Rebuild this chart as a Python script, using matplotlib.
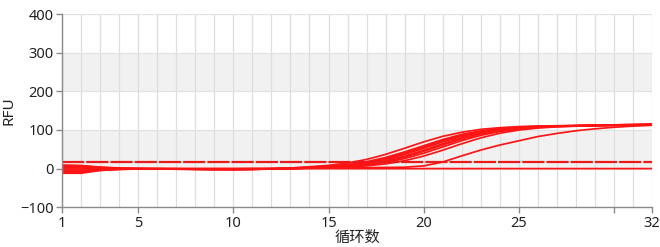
import matplotlib
matplotlib.use("Agg")
import matplotlib.pyplot as plt

cycles = list(range(1, 33))

# RFU per well (baseline subtracted)
rfu_a1 = [8, 7, 3, 1, 0, 0, -0.5, -1, -1.5, -1.5, -1, -0.5, 1.5, 4.8, 8.4, 14.4, 23.7, 36.8, 52.7, 69.1, 83.5, 94.1, 101.6, 105.9, 108.7, 110.2, 111.0, 111.5, 112.0, 112.5, 113.0, 113.5]
rfu_a2 = [5, 5, 2, 0.5, 0, -0.5, -1, -1.5, -2, -2, -1.5, -1, 1.0, 3.0, 5.3, 9.3, 15.9, 25.9, 39.7, 56.0, 72.3, 86.1, 96.1, 102.7, 106.7, 109.0, 110.3, 111.1, 111.8, 112.5, 113.2, 114.0]
rfu_a3 = [2, 2, 1, 0, -0.5, -1, -1, -1.5, -2, -2, -2, -1, 0.5, 2.7, 4.8, 8.4, 14.4, 23.7, 36.8, 52.7, 69.1, 83.5, 94.1, 101.6, 105.9, 108.7, 110.2, 111.0, 112.0, 113.0, 114.0, 115.0]
rfu_a4 = [-1, -1, -0.5, -0.5, -0.5, -1, -1.5, -2, -2.5, -2.5, -2, -1, 0.5, 2.2, 4.0, 7.1, 12.2, 20.4, 32.4, 47.7, 64.3, 79.6, 91.6, 99.8, 105.0, 108.0, 109.8, 110.8, 111.6, 112.4, 113.2, 114.0]
rfu_a5 = [-4, -4, -2, -1, -0.5, -0.5, -1, -1.5, -2, -2, -1.5, -1, 0, 2.0, 3.5, 6.3, 11.0, 18.6, 29.8, 44.5, 61.0, 76.6, 89.5, 98.4, 104.1, 107.5, 109.5, 110.6, 111.5, 112.3, 113.0, 113.8]
rfu_a6 = [-7, -7, -3, -1.5, -1, -1, -1.5, -2, -2, -2.5, -2, -1, 0, 1.7, 3.0, 5.3, 9.3, 15.9, 25.9, 39.7, 56.0, 72.3, 86.1, 96.1, 102.7, 106.7, 109.0, 110.3, 111.2, 112.0, 112.8, 113.5]
rfu_a7 = [-10, -10, -4, -2, -1, -1, -1, -1.5, -1.5, -2, -1.5, -1, -0.5, 1.3, 2.2, 4.0, 7.1, 12.2, 20.4, 32.4, 47.7, 64.3, 79.6, 91.6, 99.8, 105.0, 108.0, 109.8, 110.8, 111.6, 112.4, 113.2]
rfu_a8 = [9, 8, 4, 1.5, 0.5, 0, -0.5, -1, -1, -1, -1, 0, 1.5, 3.4, 6.0, 10.5, 17.8, 28.8, 43.3, 59.3, 75.2, 88.6, 97.6, 103.6, 107.2, 109.3, 110.5, 111.3, 112.3, 113.3, 114.3, 115.3]
rfu_b1 = [-12, -12, -5, -2, -1, -0.5, 0, 0, 0, 0, 0.5, 0.5, 1, 1, 1.5, 2, 2.5, 3, 3.5, 7, 17, 33, 48, 61, 72, 83, 91, 98, 103, 107, 110, 112]
rfu_ntc = [3, 3, 1, 0, 0, 0, 0, 0, 0, 0, 0, 0, 0, 0, 0, 0, 0, 0, 0, 0, 0, 0, 0, 0, 0, 0, 0, 0, 0, 0, 0, 0]

threshold = 16.5

x_ticks = [1, 5, 10, 15, 20, 25, 30, 32]
x_labels = ["1", "5", "10", "15", "20", "25", "", "32"]
y_ticks = [-100, 0, 100, 200, 300, 400]

fig = plt.figure(figsize=(6.6, 2.47), dpi=100)
ax = fig.add_axes([0.094, 0.161, 0.894, 0.782])

# grey bands and grid
for lo, hi in [(0, 100), (200, 300)]:
    ax.axhspan(lo, hi, color="#f1f1f1", lw=0, zorder=0)
for c in cycles:
    ax.axvline(c, color="#dedede", lw=0.9, zorder=1)
for y in y_ticks[1:]:
    ax.axhline(y, color="#e2e2e2", lw=0.9, zorder=1)

red = "#ff1414"
for well in [rfu_ntc, rfu_b1, rfu_a7, rfu_a6, rfu_a5, rfu_a4, rfu_a3, rfu_a2, rfu_a8, rfu_a1]:
    ax.plot(cycles, well, color=red, lw=1.25, zorder=3)

ax.plot([cycles[0], cycles[-1]], [threshold, threshold], color="#e81a1a", lw=1.6,
        linestyle=(0, (10, 0.9)), zorder=4)

ax.set_xlim(1, 32)
ax.set_ylim(-100, 400)
ax.set_xticks(x_ticks)
ax.set_xticklabels(x_labels)
ax.set_yticks(y_ticks)

for side in ["top", "right"]:
    ax.spines[side].set_visible(False)
for side in ["left", "bottom"]:
    ax.spines[side].set_color("#8a8a8a")
    ax.spines[side].set_linewidth(1.0)
    ax.spines[side].set_zorder(5)

ax.tick_params(axis="both", colors="#8a8a8a", length=4.5, width=1.0, pad=1.5,
               labelcolor="#222222", labelsize=10.5)
for lbl in ax.get_xticklabels() + ax.get_yticklabels():
    lbl.set_family("Noto Sans")

ax.set_ylabel("RFU", family="Noto Sans", fontsize=11, color="#222222", labelpad=3)
ax.set_xlabel("循环数", family=["Noto Sans CJK SC", "DejaVu Sans"], fontsize=11,
              color="#222222", labelpad=-1)

fig.savefig("out.png", dpi=100)
